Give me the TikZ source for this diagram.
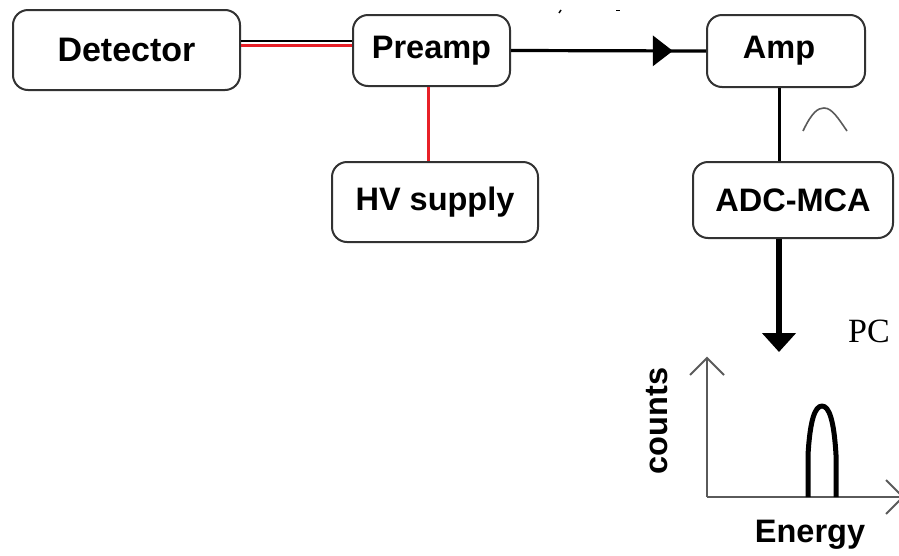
\documentclass[tikz,border=0pt]{standalone}
\usepackage{fontspec}
\setmainfont{Liberation Serif}
\setsansfont{Liberation Sans}
\usetikzlibrary{arrows.meta,decorations.markings}
\definecolor{wire}{RGB}{232,32,40}
\definecolor{boxline}{RGB}{50,50,50}
\definecolor{axis}{RGB}{90,90,90}
\tikzset{
  blk/.style={draw=boxline, line width=2pt, rounded corners=15pt, fill=white,
    font=\sffamily\bfseries\fontsize{32.5}{36}\selectfont, inner sep=0pt, align=center},
  redwire/.style={draw=wire, line width=3pt},
  blackwire/.style={draw=black, line width=3pt},
  axisline/.style={draw=axis, line width=2pt},
  lbl/.style={font=\sffamily\bfseries\fontsize{32.5}{36}\selectfont, inner sep=0pt},
}
\begin{document}
\begin{tikzpicture}[x=1pt,y=-1pt]
\useasboundingbox (0,0) rectangle (899,555);
\clip (0,0) rectangle (899,555);
% boxes
\node[blk, minimum width=227pt, minimum height=80pt, font=\sffamily\bfseries\fontsize{34}{38}\selectfont] (det) at (126.5,50) {Detector};
\node[blk, minimum width=157pt, minimum height=71pt] (pre) at (431.5,50.5) {Preamp};
\node[blk, minimum width=158pt, minimum height=72pt] (amp) at (786,51) {\kern-14pt Amp};
\node[blk, minimum width=206pt, minimum height=80pt] (hv) at (435,202) {HV supply};
\node[blk, minimum width=200pt, minimum height=76pt] (adc) at (793,200) {ADC-MCA};
% connectors
\draw[blackwire, line width=2.4pt] ([yshift=9pt]det.east) -- ([yshift=9.5pt]pre.west);
\draw[redwire] ([yshift=5pt]det.east) -- ([yshift=5.5pt]pre.west);
\draw[redwire] ([xshift=-3.5pt]pre.south) -- ([xshift=-7pt]hv.north);
\draw[blackwire, line width=3.2pt,
  postaction={decorate, decoration={markings,
    mark=at position 0.83 with {\arrow{Triangle[length=20pt,width=30pt]}}}}]
  (pre.east) -- (amp.west);
\draw[blackwire] ([xshift=-7pt]amp.south) -- ([xshift=-14pt]adc.north);
\coordinate (pcin) at (779,352);
\draw[black, line width=5.5pt, -{Triangle[length=19pt,width=33pt]}] ([xshift=-14pt]adc.south) -- (pcin);
% pulse shape
\draw[axis, line width=1.6pt] (803,131) .. controls (812,112) and (818,108) .. (824,108) .. controls (832,108) and (838,118) .. (847,131);
% PC label
\node[font=\fontsize{34}{38}\selectfont, inner sep=0pt] (pc) at (869,331) {PC};
% spectrum axes
\coordinate (o) at (707,497);
\coordinate (ytop) at (707,358);
\coordinate (xend) at (903,497);
\draw[axisline] (o) -- (ytop);
\draw[axisline] (o) -- (xend);
\draw[axisline] (690,375) -- (ytop) -- (724,375);
\draw[axisline] (886,480) -- (xend) -- (886,514);
\draw[black, line width=5pt, line join=round]
  (808,497) -- (808,455) .. controls (810,420) and (815,406) .. (822,406)
  .. controls (829,406) and (834,420) .. (836,455) -- (836,497);
\node[lbl, rotate=90] (counts) at (657,421) {counts};
\node[lbl] (energy) at (810,535) {Energy};
% small stray marks at top
\draw[black, line width=1.5pt] (559,13) -- (561,10);
\draw[black, line width=1.5pt] (616,10.5) -- (620,10.5);
\end{tikzpicture}
\end{document}
